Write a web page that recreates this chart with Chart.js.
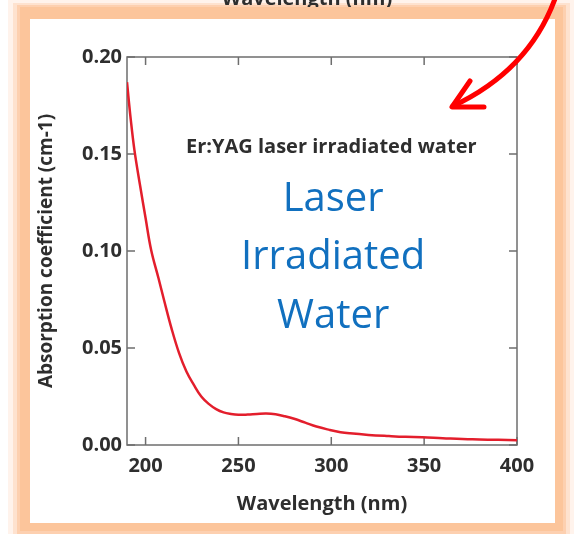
<!DOCTYPE html>
<html>
<head>
<meta charset="utf-8">
<script src="https://cdn.jsdelivr.net/npm/chart.js@4.4.0/dist/chart.umd.min.js"></script>
<style>
html, body { margin: 0; padding: 0; background: #fff; }
</style>
</head>
<body>
<canvas id="absChart" width="577" height="534"></canvas>
<script>
// spectrum
var wavelengths = [190, 192, 194, 197, 200, 203, 207, 210, 214, 218, 222, 226, 230, 234, 238, 242, 246, 250,
  255, 260, 265, 270, 275, 280, 286, 292, 299, 305, 310, 320, 331, 340, 349, 360, 376, 390, 400];
var absorbance = [0.187, 0.168, 0.152, 0.134, 0.117, 0.1005, 0.0858, 0.0745, 0.060, 0.0475, 0.0379, 0.031, 0.025, 0.0212, 0.0185, 0.0168, 0.016, 0.0156,
  0.0157, 0.016, 0.0162, 0.0158, 0.0148, 0.0135, 0.0115, 0.0095, 0.0078, 0.0066, 0.006, 0.0052, 0.0046, 0.0042, 0.004, 0.0035, 0.0029, 0.0027, 0.0025];
var xTicks = [200, 250, 300, 350, 400];
var yTicks = [0, 0.05, 0.10, 0.15, 0.20];

// text placed inside the plot, in data units
var noteText = ["Er:YAG laser irradiated water", "Laser", "Irradiated", "Water"];
var noteX = [300, 301, 301, 301];
var noteY = [0.1535, 0.1263, 0.0964, 0.066];

var tickFont = {family: "'Open Sans'", size: 20, weight: "bold"};
var darkText = "#2e2e2e";

var framePlugin = {
  id: "frame",
  beforeDraw: function(chart) {
    var ctx = chart.ctx;
    ctx.save();
    ctx.fillStyle = "#ffffff";
    ctx.fillRect(0, 0, 577, 534);
    ctx.fillStyle = "#fff3ec";
    ctx.fillRect(8, 0, 566, 534);
    ctx.fillStyle = "#fee2cf";
    ctx.fillRect(13, 3, 557, 531);
    ctx.fillStyle = "#fdd0b0";
    ctx.fillRect(17, 5, 549, 529);
    // slide title cut off by the frame
    ctx.fillStyle = darkText;
    ctx.font = "bold 20px 'Open Sans'";
    ctx.textAlign = "center";
    ctx.textBaseline = "alphabetic";
    ctx.fillText("Wavelength (nm)", 307, 5);
    ctx.fillStyle = "#fcc59b";
    ctx.fillRect(20, 7, 543, 524);
    ctx.fillStyle = "#ffffff";
    ctx.fillRect(30, 19, 525, 504);
    ctx.restore();
  }
};

var boxPlugin = {
  id: "box",
  beforeDatasetsDraw: function(chart) {
    var ctx = chart.ctx, a = chart.chartArea;
    var xs = chart.scales.x, ys = chart.scales.y;
    ctx.save();
    ctx.strokeStyle = "#6e6e6e";
    ctx.lineWidth = 1.5;
    ctx.strokeRect(a.left, a.top, a.right - a.left, a.bottom - a.top);
    ctx.beginPath();
    xTicks.forEach(function(v) {
      var px = xs.getPixelForValue(v);
      ctx.moveTo(px, a.bottom); ctx.lineTo(px, a.bottom - 8);
      ctx.moveTo(px, a.top); ctx.lineTo(px, a.top + 8);
    });
    yTicks.forEach(function(v) {
      var py = ys.getPixelForValue(v);
      ctx.moveTo(a.left, py); ctx.lineTo(a.left + 8, py);
      ctx.moveTo(a.right, py); ctx.lineTo(a.right - 8, py);
    });
    ctx.stroke();
    ctx.restore();
  },
  afterDraw: function(chart) {
    var ctx = chart.ctx;
    var xs = chart.scales.x, ys = chart.scales.y;
    ctx.save();
    ctx.textAlign = "center";
    ctx.textBaseline = "middle";
    noteText.forEach(function(t, i) {
      if (i === 0) {
        ctx.font = "bold 20px 'Open Sans'";
        ctx.fillStyle = darkText;
      } else {
        ctx.font = "40px 'Open Sans'";
        ctx.fillStyle = "#1170bf";
      }
      ctx.fillText(t, xs.getPixelForValue(noteX[i]), ys.getPixelForValue(noteY[i]));
    });
    // red arrow
    ctx.strokeStyle = "#ff0000";
    ctx.lineWidth = 5;
    ctx.lineCap = "round";
    ctx.lineJoin = "round";
    ctx.beginPath();
    ctx.moveTo(556, -4);
    ctx.quadraticCurveTo(530, 70, 453, 106);
    ctx.stroke();
    ctx.beginPath();
    ctx.moveTo(470, 81);
    ctx.lineTo(452, 107);
    ctx.lineTo(484, 107);
    ctx.stroke();
    ctx.restore();
  }
};

new Chart("absChart", {
  type: "line",
  data: {
    datasets: [{
      data: wavelengths.map(function(w, i) { return {x: w, y: absorbance[i]}; }),
      borderColor: "#e31e2c",
      borderWidth: 2.5,
      pointRadius: 0,
      tension: 0.4,
      fill: false
    }]
  },
  options: {
    responsive: false,
    animation: false,
    layout: {padding: {top: 57, right: 60, left: 0, bottom: 0}},
    plugins: {legend: {display: false}, tooltip: {enabled: false}},
    scales: {
      x: {
        type: "linear",
        min: 190,
        max: 400,
        afterBuildTicks: function(s) { s.ticks = xTicks.map(function(v) { return {value: v}; }); },
        afterFit: function(s) { s.height = 89; },
        grid: {display: false, drawTicks: false},
        border: {display: false},
        ticks: {font: tickFont, color: darkText, padding: 9, maxRotation: 0},
        title: {display: true, text: "Wavelength (nm)", font: tickFont, color: darkText, padding: {top: 0, bottom: 18}}
      },
      y: {
        type: "linear",
        min: 0,
        max: 0.2,
        afterBuildTicks: function(s) { s.ticks = yTicks.map(function(v) { return {value: v}; }); },
        afterFit: function(s) { s.width = 127; },
        grid: {display: false, drawTicks: false},
        border: {display: false},
        ticks: {font: tickFont, color: darkText, padding: 5, callback: function(v) { return v.toFixed(2); }},
        title: {display: true, text: "Absorption coefficient (cm-1)", font: {family: "'Open Sans'", size: 19, weight: "bold"}, color: darkText, padding: {top: 35, bottom: 0}}
      }
    }
  },
  plugins: [framePlugin, boxPlugin]
});
</script>
</body>
</html>
